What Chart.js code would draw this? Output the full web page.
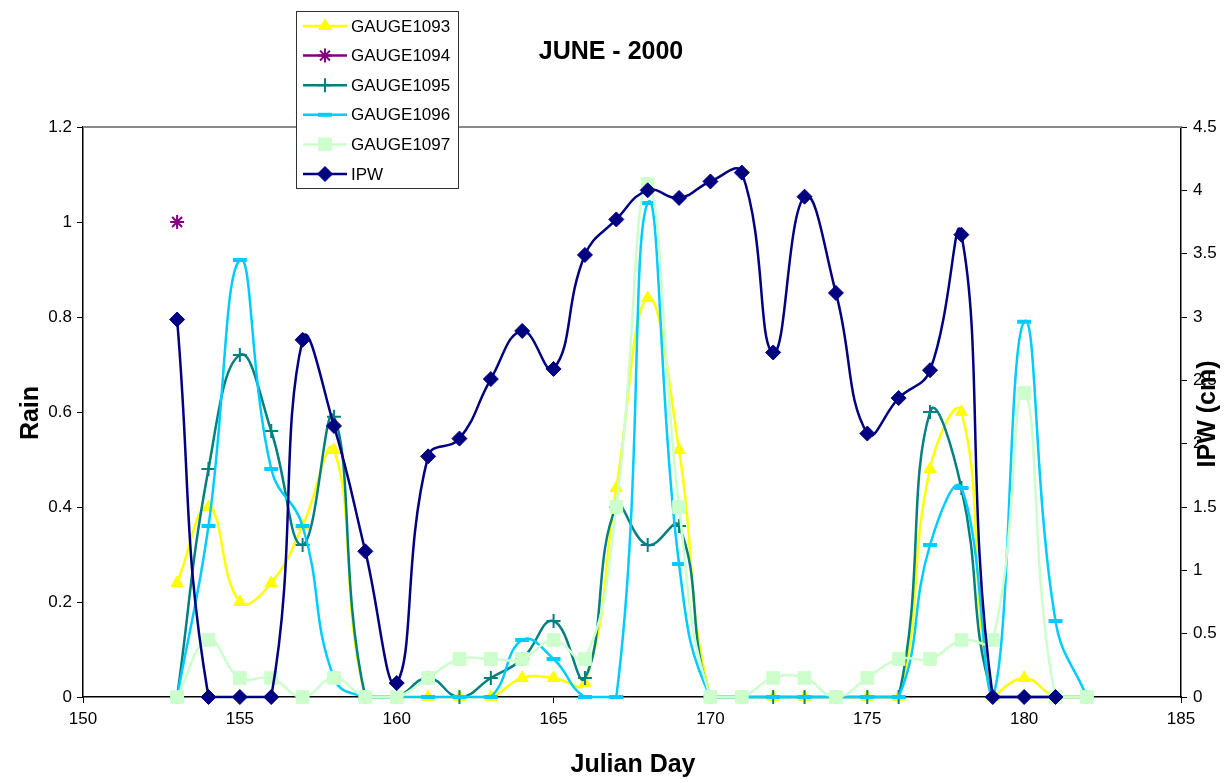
<!DOCTYPE html>
<html>
<head>
<meta charset="utf-8">
<title>JUNE - 2000</title>
<script src="https://cdn.jsdelivr.net/npm/chart.js@4.4.1/dist/chart.umd.min.js"></script>
<style>
  html, body { margin: 0; padding: 0; background: #fff; }
  #wrap { width: 1230px; height: 783px; }
</style>
</head>
<body>
<div id="wrap"><canvas id="rainChart" width="1230" height="783"></canvas></div>
<script>
// Julian days of June 2000
const days = [153, 154, 155, 156, 157, 158, 159, 160, 161, 162, 163, 164, 165, 166, 167,
              168, 169, 170, 171, 172, 173, 174, 175, 176, 177, 178, 179, 180, 181, 182];

// Rain per gauge
const gauge1093 = [0.24, 0.40, 0.20, 0.24, 0.36, 0.52, 0, 0, 0, 0, 0, 0.04, 0.04, 0.03, 0.44,
                   0.84, 0.52, 0, 0, 0, 0, 0, 0, 0, 0.48, 0.60, 0, 0.04, 0, 0];
const gauge1094 = [1.0, null, null, null, null, null, null, null, null, null, null, null, null, null, null,
                   null, null, null, null, null, null, null, null, null, null, null, null, null, null, null];
const gauge1095 = [0, 0.48, 0.72, 0.56, 0.32, 0.59, 0, 0, 0.04, 0, 0.04, 0.08, 0.16, 0.04, 0.40,
                   0.32, 0.36, 0, 0, 0, 0, 0, 0, 0, 0.60, 0.44, 0, 0, 0, 0];
const gauge1096 = [0, 0.36, 0.92, 0.48, 0.36, 0.04, 0, 0, 0, 0, 0, 0.12, 0.08, 0, 0,
                   1.04, 0.28, 0, 0, 0, 0, 0, 0, 0, 0.32, 0.44, 0, 0.79, 0.16, 0];
const gauge1097 = [0, 0.12, 0.04, 0.04, 0, 0.04, 0, 0, 0.04, 0.08, 0.08, 0.08, 0.12, 0.08, 0.40,
                   1.08, 0.40, 0, 0, 0.04, 0.04, 0, 0.04, 0.08, 0.08, 0.12, 0.12, 0.64, 0, 0];

// Integrated precipitable water (cm)
const ipw = [2.98, 0, 0, 0, 2.82, 2.14, 1.15, 0.11, 1.90, 2.04, 2.51, 2.89, 2.59, 3.49, 3.77,
             4.00, 3.94, 4.07, 4.14, 2.72, 3.95, 3.19, 2.08, 2.36, 2.58, 3.65, 0, 0, 0, null];

const FONT = "'Liberation Sans', Arial, sans-serif";

function toPoints(values) {
    return days.map((d, i) => ({ x: d, y: values[i] })).filter(p => p.y !== null);
}

function series(label, values, color, style, radius, extra) {
    return Object.assign({
        label: label,
        data: toPoints(values),
        borderColor: color,
        backgroundColor: color,
        pointBackgroundColor: color,
        pointBorderColor: color,
        borderWidth: 2.5,
        pointStyle: style,
        pointRadius: radius,
        pointBorderWidth: 1,
        tension: 0.45,
        clip: false,
        yAxisID: 'y'
    }, extra || {});
}

const datasets = [
    series('GAUGE1093', gauge1093, '#FFFF00', 'triangle', 7, { order: 5 }),
    series('GAUGE1094', gauge1094, '#800080', 'star', 7, { order: 4, pointBorderWidth: 2 }),
    series('GAUGE1095', gauge1095, '#008080', 'cross', 7, { order: 3, pointBorderWidth: 2 }),
    series('GAUGE1096', gauge1096, '#00CCFF', 'line', 7, { order: 2, pointBorderWidth: 4 }),
    series('GAUGE1097', gauge1097, '#CCFFCC', 'rect', 9, { order: 1 }),
    series('IPW', ipw, '#000080', 'rectRot', 7.5, { order: 0, yAxisID: 'y2' })
];

// Draws a legend sample marker, falling back to a dot if helpers are unavailable
function legendMarker(ctx, ds, x, y) {
    ctx.save();
    ctx.fillStyle = ds.pointBackgroundColor;
    ctx.strokeStyle = ds.pointBorderColor;
    ctx.lineWidth = ds.pointBorderWidth;
    if (Chart.helpers && Chart.helpers.drawPoint) {
        Chart.helpers.drawPoint(ctx, {
            pointStyle: ds.pointStyle,
            radius: ds.pointRadius,
            borderWidth: ds.pointBorderWidth,
            rotation: 0
        }, x, y);
    } else {
        ctx.beginPath();
        ctx.arc(x, y, ds.pointRadius, 0, Math.PI * 2);
        ctx.fill();
    }
    ctx.restore();
}

const decorations = {
    id: 'decorations',
    beforeDraw(chart) {
        const ctx = chart.ctx;
        ctx.save();
        ctx.fillStyle = '#fff';
        ctx.fillRect(0, 0, chart.width, chart.height);
        ctx.restore();
    },
    beforeDatasetsDraw(chart) {
        const ctx = chart.ctx;
        const area = chart.chartArea;
        // gray frame line along the top of the plot
        ctx.save();
        ctx.strokeStyle = '#888';
        ctx.lineWidth = 2;
        ctx.beginPath();
        ctx.moveTo(area.left, area.top);
        ctx.lineTo(area.right, area.top);
        ctx.stroke();
        ctx.restore();
    },
    afterDraw(chart) {
        const ctx = chart.ctx;
        ctx.save();
        ctx.fillStyle = '#000';
        ctx.font = 'bold 25px ' + FONT;
        ctx.textAlign = 'center';
        ctx.textBaseline = 'middle';
        ctx.fillText('JUNE - 2000', 611, 52);
        ctx.fillText('Julian Day', 633, 765);

        ctx.save();
        ctx.translate(31, 413);
        ctx.rotate(-Math.PI / 2);
        ctx.fillText('Rain', 0, 0);
        ctx.restore();

        ctx.save();
        ctx.translate(1208, 414);
        ctx.rotate(-Math.PI / 2);
        ctx.fillText('IPW (cm)', 0, 0);
        ctx.restore();

        // legend box
        const bx = 296, by = 11, bw = 162, bh = 177;
        ctx.fillStyle = '#fff';
        ctx.fillRect(bx, by, bw, bh);
        ctx.strokeStyle = '#333';
        ctx.lineWidth = 1;
        ctx.strokeRect(bx + 0.5, by + 0.5, bw, bh);

        ctx.font = '17px ' + FONT;
        ctx.textAlign = 'left';
        chart.data.datasets.forEach((ds, i) => {
            const y = 26 + i * 29.6;
            ctx.strokeStyle = ds.borderColor;
            ctx.lineWidth = 2.5;
            ctx.beginPath();
            ctx.moveTo(303, y);
            ctx.lineTo(347, y);
            ctx.stroke();
            legendMarker(ctx, ds, 325, y);
            ctx.fillStyle = '#000';
            ctx.fillText(ds.label, 351, y + 1);
        });
        ctx.restore();
    }
};

const tickFont = { family: FONT, size: 17 };

new Chart(document.getElementById('rainChart'), {
    type: 'line',
    data: { datasets: datasets },
    options: {
        responsive: false,
        animation: false,
        devicePixelRatio: 1,
        layout: { padding: { top: 127, left: 0, right: 0, bottom: 0 } },
        plugins: {
            legend: { display: false },
            tooltip: { enabled: false },
            title: { display: false }
        },
        scales: {
            x: {
                type: 'linear',
                position: 'bottom',
                min: 150,
                max: 185,
                ticks: { stepSize: 5, color: '#000', font: tickFont, padding: 6, maxRotation: 0 },
                grid: { drawOnChartArea: false, drawTicks: true, tickLength: 6, color: '#000' },
                border: { color: '#000', width: 1.5 },
                afterFit(scale) { scale.height = 86; }
            },
            y: {
                position: 'left',
                min: 0,
                max: 1.2,
                ticks: { stepSize: 0.2, color: '#000', font: tickFont, padding: 5,
                         callback: v => String(+v.toFixed(1)) },
                grid: { drawOnChartArea: false, drawTicks: true, tickLength: 6, color: '#000' },
                border: { color: '#000', width: 1.5 },
                afterFit(scale) { scale.width = 83; }
            },
            y2: {
                position: 'right',
                min: 0,
                max: 4.5,
                ticks: { stepSize: 0.5, color: '#000', font: tickFont, padding: 6,
                         callback: v => String(+v.toFixed(1)) },
                grid: { drawOnChartArea: false, drawTicks: true, tickLength: 6, color: '#000' },
                border: { color: '#000', width: 1.5 },
                afterFit(scale) { scale.width = 49; }
            }
        }
    },
    plugins: [decorations]
});
</script>
</body>
</html>
